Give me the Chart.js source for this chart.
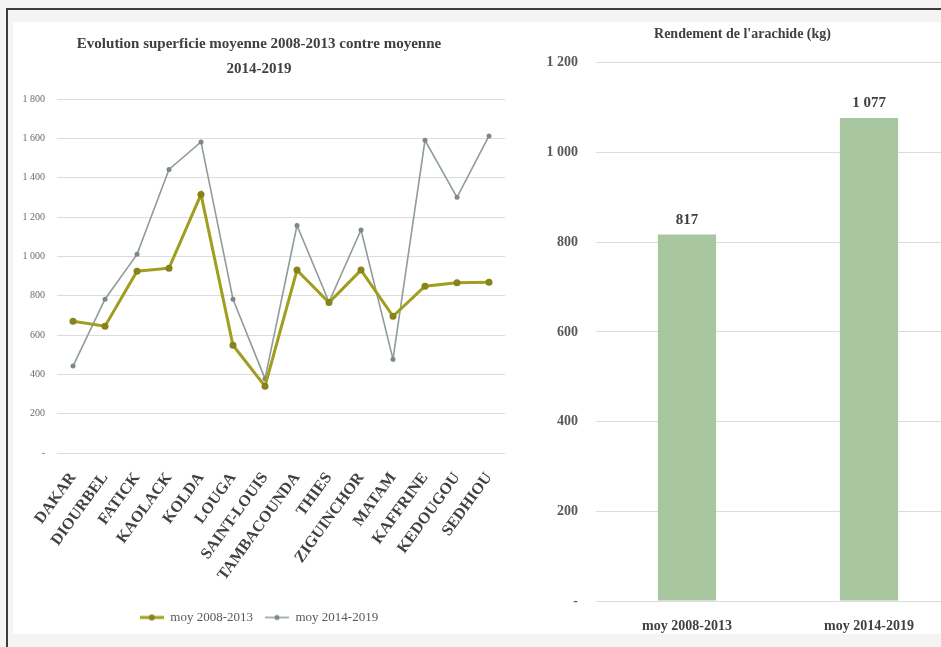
<!DOCTYPE html>
<html>
<head>
<meta charset="utf-8">
<script src="https://cdn.jsdelivr.net/npm/chart.js@4.4.1/dist/chart.umd.min.js"></script>
<style>
    html, body { margin: 0; padding: 0; }
    body { width: 941px; height: 647px; background: #f4f4f4; position: relative; overflow: hidden; }
    #frame { position: absolute; left: 6px; top: 8px; right: -10px; bottom: -10px;
             border-left: 2px solid #3c3c3c; border-top: 2px solid #3c3c3c; }
    #panel { position: absolute; left: 13px; top: 22px; width: 928px; height: 612px; background: #fff; overflow: hidden; }
    #leftBox { position: absolute; left: 0; top: 0; width: 500px; height: 612px; }
    #rightBox { position: absolute; left: 512px; top: 0; width: 455px; height: 612px; }
</style>
</head>
<body>
<div id="frame"></div>
<div id="panel">
    <div id="leftBox"><canvas id="surfaceChart" width="500" height="612"></canvas></div>
    <div id="rightBox"><canvas id="yieldChart" width="455" height="612"></canvas></div>
</div>
<script>
(function() {
    'use strict';

    // Left chart: average area per region
    const regions = ['DAKAR', 'DIOURBEL', 'FATICK', 'KAOLACK', 'KOLDA', 'LOUGA', 'SAINT-LOUIS',
        'TAMBACOUNDA', 'THIES', 'ZIGUINCHOR', 'MATAM', 'KAFFRINE', 'KEDOUGOU', 'SEDHIOU'];
    const moy2008 = [670, 645, 924, 940, 1315, 548, 340, 930, 765, 930, 695, 848, 866, 868];
    const moy2014 = [442, 782, 1010, 1442, 1582, 782, 378, 1157, 768, 1134, 477, 1590, 1300, 1612];
    const seriesNames = ['moy 2008-2013', 'moy 2014-2019'];

    // Right chart: groundnut yield
    const periods = ['moy 2008-2013', 'moy 2014-2019'];
    const rendement = [817, 1077];

    const SERIF = '"Liberation Serif", "DejaVu Serif", serif';
    const OLIVE = '#a09e1e';
    const OLIVE_DARK = '#85831a';
    const GREY = '#8e9d99';
    const GREY_DARK = '#7c8986';

    function fmt(v) {
        if (v === 0) return '-';
        return String(v).replace(/\B(?=(\d{3})+(?!\d))/g, ' ');
    }

    // little line + dot marker for the legend
    function makeMarker(color, dotColor, lineW, r) {
        const c = document.createElement('canvas');
        c.width = 24; c.height = 10;
        const ctx = c.getContext('2d');
        ctx.strokeStyle = color;
        ctx.lineWidth = lineW;
        ctx.beginPath();
        ctx.moveTo(0, 5); ctx.lineTo(24, 5);
        ctx.stroke();
        ctx.fillStyle = dotColor;
        ctx.beginPath();
        ctx.arc(12, 5, r, 0, Math.PI * 2);
        ctx.fill();
        return c;
    }

    const markers = [makeMarker(OLIVE, OLIVE_DARK, 3, 3), makeMarker(GREY, GREY_DARK, 1.5, 2.5)];

    new Chart(document.getElementById('surfaceChart'), {
        type: 'line',
        data: {
            labels: regions,
            datasets: [{
                label: seriesNames[0],
                data: moy2008,
                borderColor: OLIVE,
                backgroundColor: OLIVE_DARK,
                borderWidth: 3,
                pointRadius: 3.5,
                pointBorderWidth: 0,
                pointBackgroundColor: OLIVE_DARK,
                pointStyle: 'circle',
                tension: 0
            }, {
                label: seriesNames[1],
                data: moy2014,
                borderColor: GREY,
                backgroundColor: GREY_DARK,
                borderWidth: 1.6,
                pointRadius: 2.5,
                pointBorderWidth: 0,
                pointBackgroundColor: GREY_DARK,
                pointStyle: 'circle',
                tension: 0
            }]
        },
        options: {
            responsive: false,
            animation: false,
            layout: { padding: { left: 0, right: 8, top: 0, bottom: 0 } },
            scales: {
                x: {
                    offset: true,
                    grid: { display: false },
                    border: { display: false },
                    ticks: {
                        autoSkip: false,
                        minRotation: 54,
                        maxRotation: 54,
                        padding: 8,
                        color: '#404040',
                        font: { family: SERIF, size: 16, weight: 'bold' }
                    },
                    afterFit: function(scale) { scale.height = 146; }
                },
                y: {
                    min: 0,
                    max: 1800,
                    grid: { color: '#dcdcdc', drawTicks: false },
                    border: { display: false },
                    ticks: {
                        stepSize: 200,
                        padding: 12,
                        color: '#6a6a6a',
                        font: { family: SERIF, size: 10 },
                        callback: function(v) { return fmt(v); }
                    },
                    afterFit: function(scale) { scale.width = 44; }
                }
            },
            plugins: {
                title: {
                    display: true,
                    text: ['Evolution superficie moyenne 2008-2013 contre moyenne', '2014-2019'],
                    color: '#404040',
                    font: { family: SERIF, size: 15, weight: 'bold', lineHeight: 1.667 },
                    padding: { top: 10, bottom: 17 }
                },
                legend: {
                    position: 'bottom',
                    labels: {
                        color: '#595959',
                        font: { family: SERIF, size: 13 },
                        usePointStyle: true,
                        pointStyleWidth: 24,
                        padding: 12,
                        generateLabels: function(chart) {
                            return chart.data.datasets.map(function(ds, i) {
                                return {
                                    text: ds.label,
                                    pointStyle: markers[i],
                                    fillStyle: ds.borderColor,
                                    strokeStyle: ds.borderColor,
                                    lineWidth: 0,
                                    fontColor: '#595959',
                                    datasetIndex: i
                                };
                            });
                        }
                    }
                },
                tooltip: { enabled: false }
            }
        }
    });

    // value labels above the bars
    const barValues = {
        id: 'barValues',
        afterDatasetsDraw: function(chart) {
            const ctx = chart.ctx;
            const meta = chart.getDatasetMeta(0);
            ctx.save();
            ctx.fillStyle = '#404040';
            ctx.font = 'bold 15px ' + SERIF;
            ctx.textAlign = 'center';
            ctx.textBaseline = 'bottom';
            meta.data.forEach(function(bar, i) {
                ctx.fillText(fmt(chart.data.datasets[0].data[i]), bar.x, bar.y - 7);
            });
            ctx.restore();
        }
    };

    new Chart(document.getElementById('yieldChart'), {
        type: 'bar',
        data: {
            labels: periods,
            datasets: [{
                label: 'Rendement',
                data: rendement,
                backgroundColor: '#a8c7a1',
                barPercentage: 0.32,
                categoryPercentage: 1
            }]
        },
        options: {
            responsive: false,
            animation: false,
            layout: { padding: { left: 0, right: 20, top: 0, bottom: 0 } },
            scales: {
                x: {
                    grid: { display: false },
                    border: { display: false },
                    ticks: {
                        padding: 9,
                        color: '#404040',
                        font: { family: SERIF, size: 14, weight: 'bold' }
                    },
                    afterFit: function(scale) { scale.height = 33; }
                },
                y: {
                    min: 0,
                    max: 1200,
                    grid: { color: '#dcdcdc', drawTicks: false },
                    border: { display: false },
                    ticks: {
                        stepSize: 200,
                        padding: 18,
                        color: '#595959',
                        font: { family: SERIF, size: 14, weight: 'bold' },
                        callback: function(v) { return fmt(v); }
                    },
                    afterFit: function(scale) { scale.width = 71; }
                }
            },
            plugins: {
                title: {
                    display: true,
                    text: "Rendement de l'arachide (kg)",
                    color: '#404040',
                    font: { family: SERIF, size: 14, weight: 'bold', lineHeight: 1.2 },
                    padding: { top: 4, bottom: 20 }
                },
                legend: { display: false },
                tooltip: { enabled: false }
            }
        },
        plugins: [barValues]
    });
})();
</script>
</body>
</html>
